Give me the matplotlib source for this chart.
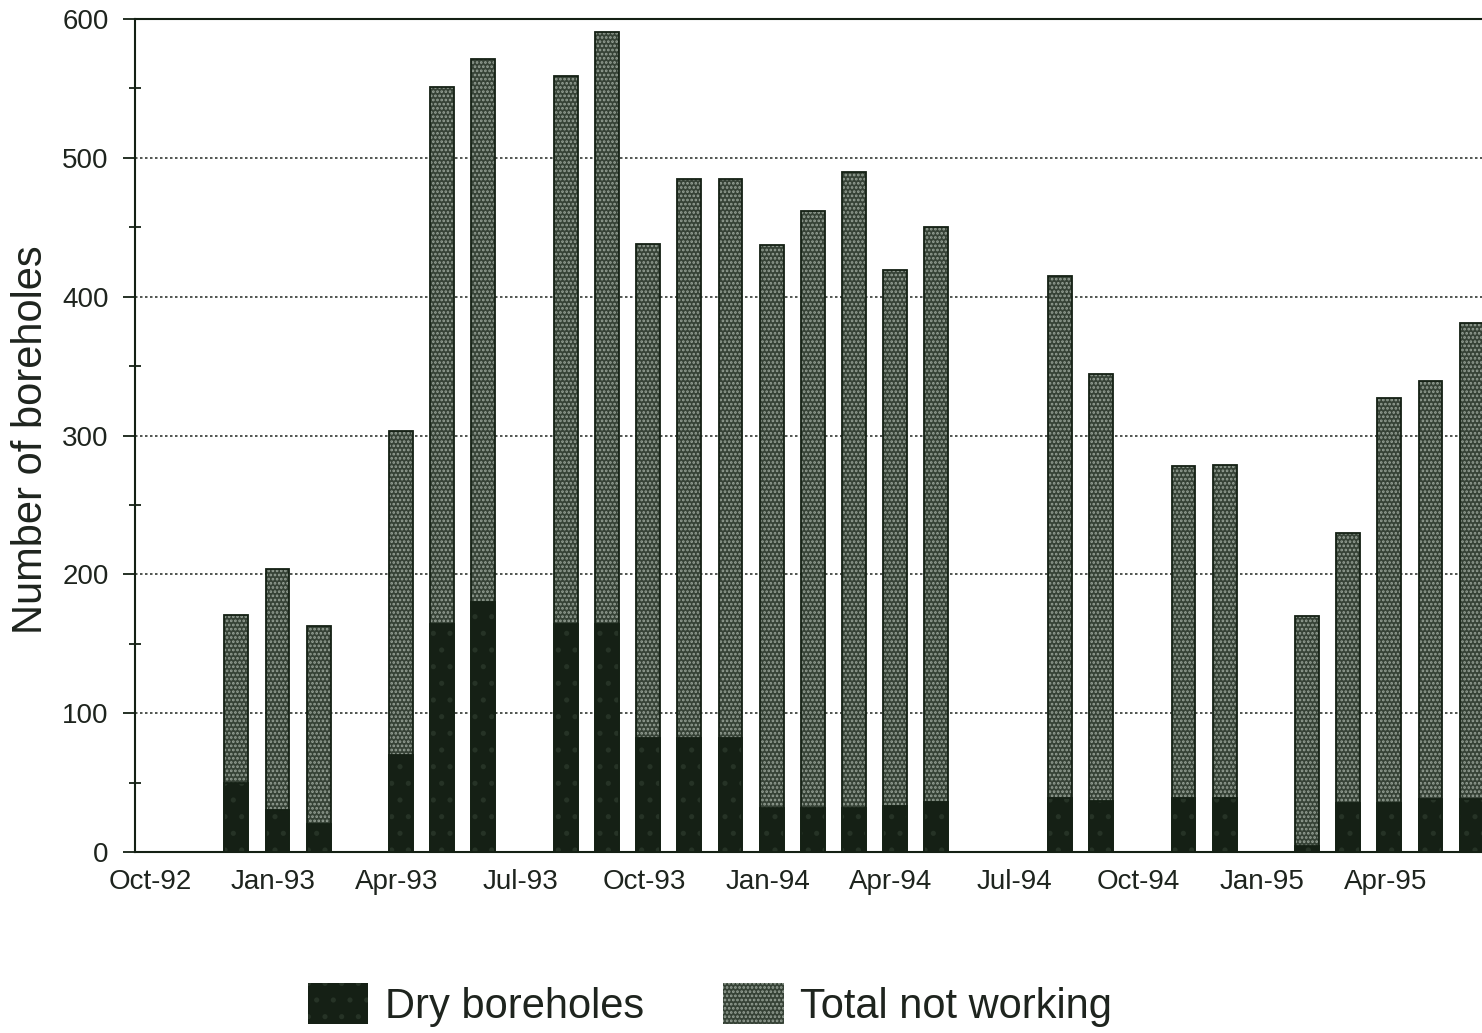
import matplotlib
matplotlib.use("Agg")
import matplotlib.pyplot as plt
from matplotlib.patches import Patch

plt.rcParams['font.family'] = ['Liberation Sans', 'DejaVu Sans']

# full month axis, Oct-92 .. Jun-95
ALL_MONTHS = ["Oct-92", "Nov-92", "Dec-92", "Jan-93", "Feb-93", "Mar-93", "Apr-93", "May-93",
              "Jun-93", "Jul-93", "Aug-93", "Sep-93", "Oct-93", "Nov-93", "Dec-93", "Jan-94",
              "Feb-94", "Mar-94", "Apr-94", "May-94", "Jun-94", "Jul-94", "Aug-94", "Sep-94",
              "Oct-94", "Nov-94", "Dec-94", "Jan-95", "Feb-95", "Mar-95", "Apr-95", "May-95",
              "Jun-95"]

# months that have a survey
months = ["Dec-92", "Jan-93", "Feb-93", "Apr-93", "May-93", "Jun-93", "Aug-93", "Sep-93",
          "Oct-93", "Nov-93", "Dec-93", "Jan-94", "Feb-94", "Mar-94", "Apr-94", "May-94",
          "Aug-94", "Sep-94", "Nov-94", "Dec-94", "Feb-95", "Mar-95", "Apr-95", "May-95",
          "Jun-95"]
total_not_working = [171, 204, 163, 303, 551, 571, 559, 591,
                     438, 485, 485, 437, 462, 490, 419, 450,
                     415, 344, 278, 279, 170, 230, 327, 339,
                     381]
dry_boreholes = [50, 30, 20, 70, 164, 180, 164, 164,
                 82, 82, 82, 32, 32, 32, 33, 36,
                 39, 37, 39, 39, 4, 35, 35, 38,
                 38]

tick_labels = ["Oct-92", "Jan-93", "Apr-93", "Jul-93", "Oct-93", "Jan-94", "Apr-94",
               "Jul-94", "Oct-94", "Jan-95", "Apr-95"]

TXT = '#1e241e'
TOTAL_FACE = '#364236'
TOTAL_DOTS = '#97a297'
DRY_FACE = '#152015'
DRY_DOTS = '#263326'
EDGE = '#142014'

fig = plt.figure(figsize=(14.82, 10.33), dpi=100)
ax = fig.add_axes([0.0911, 0.1752, 0.9089, 0.8064])

x = [ALL_MONTHS.index(m) for m in months]
w = 0.58

plt.rcParams['hatch.linewidth'] = 1.3
ax.bar(x, total_not_working, w, color=TOTAL_FACE, edgecolor=TOTAL_DOTS, hatch='....', linewidth=0, zorder=3)
ax.bar(x, total_not_working, w, fill=False, edgecolor=EDGE, linewidth=1.3, zorder=4)
ax.bar(x, dry_boreholes, w, color=DRY_FACE, edgecolor=DRY_DOTS, hatch='.', linewidth=0, zorder=5)
ax.bar(x, dry_boreholes, w, fill=False, edgecolor=EDGE, linewidth=1.3, zorder=6)

ax.set_xlim(-0.46, 32.25)
ax.set_ylim(0, 600)

ax.set_xticks([ALL_MONTHS.index(t) - 0.1 for t in tick_labels])
ax.set_xticklabels(tick_labels)
ax.tick_params(axis='x', length=0, pad=12, labelsize=20, labelcolor=TXT)

ax.set_yticks(range(0, 601, 100))
ax.set_yticks(range(50, 600, 100), minor=True)
ax.tick_params(axis='y', which='major', direction='out', length=9, width=1.3, pad=10,
               labelsize=20, labelcolor=TXT, color=EDGE)
ax.tick_params(axis='y', which='minor', direction='inout', length=8, width=1.3, color=EDGE)

for v in range(100, 600, 100):
    ax.axhline(v, color='#333833', linestyle=(0, (1.5, 1.5)), linewidth=1.2, zorder=1)

for s in ['left', 'bottom', 'top']:
    ax.spines[s].set_color(EDGE)
    ax.spines[s].set_linewidth(1.5)
ax.spines['right'].set_visible(False)

fig.text(31 / 1482, 1 - 440 / 1033, "Number of boreholes", rotation=90, ha='center', va='center',
         fontsize=30, color=TXT)

handles = [Patch(facecolor=DRY_FACE, edgecolor=DRY_DOTS, hatch='.', linewidth=0, label="Dry boreholes"),
           Patch(facecolor=TOTAL_FACE, edgecolor=TOTAL_DOTS, hatch='....', linewidth=0, label="Total not working")]
leg = fig.legend(handles=handles, loc='center', bbox_to_anchor=(0.479, 0.027), ncol=2, frameon=False,
                 fontsize=30, handlelength=1.45, handleheight=1.13, handletextpad=0.4,
                 columnspacing=1.9, borderpad=0)
for t in leg.get_texts():
    t.set_color(TXT)

fig.savefig("out.png", dpi=100)
